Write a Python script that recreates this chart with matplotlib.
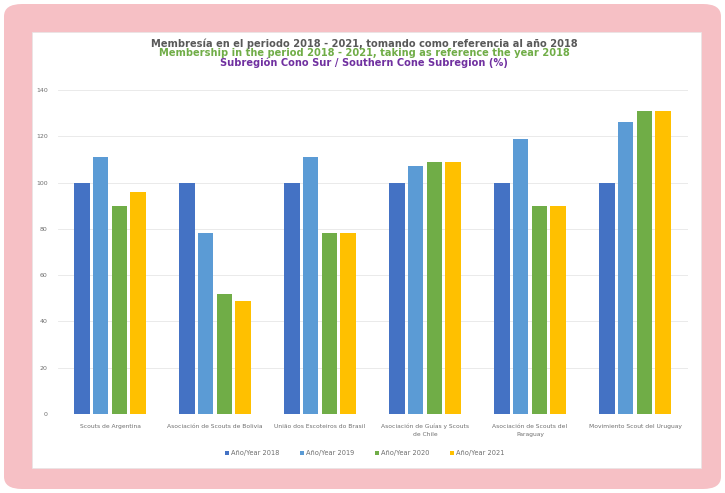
import numpy as np
import matplotlib.pyplot as plt
from matplotlib.patches import FancyBboxPatch, Rectangle

# data
categories = ["Scouts de Argentina", "Asociación de Scouts de Bolivia",
              "União dos Escoteiros do Brasil", "Asociación de Guías y Scouts\nde Chile",
              "Asociación de Scouts del\nParaguay", "Movimiento Scout del Uruguay"]
years = ["Año/Year 2018", "Año/Year 2019", "Año/Year 2020", "Año/Year 2021"]
v2018 = [100, 100, 100, 100, 100, 100]
v2019 = [111, 78, 111, 107, 119, 126]
v2020 = [90, 52, 78, 109, 90, 131]
v2021 = [96, 49, 78, 109, 90, 131]
yticks = [0, 20, 40, 60, 80, 100, 120, 140]

colors = ["#4472C4", "#5B9BD5", "#70AD47", "#FFC000"]

fig = plt.figure(figsize=(7.25, 4.93), dpi=100)
fig.patch.set_facecolor("white")

# pink frame with white panel
frame = FancyBboxPatch((4 / 725, 4 / 493), 717 / 725, 485 / 493,
                       boxstyle="round,pad=0,rounding_size=0.025",
                       transform=fig.transFigure, facecolor="#F6C0C5",
                       edgecolor="none", zorder=-2)
fig.patches.append(frame)
panel = Rectangle((32 / 725, 25 / 493), 669 / 725, 436 / 493,
                  transform=fig.transFigure, facecolor="white",
                  edgecolor="#E6E6E6", linewidth=0.5, zorder=-1)
fig.patches.append(panel)

ax = fig.add_axes([57.5 / 725, 79 / 493, 630 / 725, 324 / 493])
ax.set_facecolor("none")

x = np.arange(len(categories))
w = 0.15
step = 0.18
series = [v2018, v2019, v2020, v2021]
for i, vals in enumerate(series):
    ax.bar(x + (i - 1.5) * step, vals, width=w, color=colors[i], label=years[i], zorder=3)

ax.set_xlim(-0.5, len(categories) - 0.5)
ax.set_ylim(0, 140)
ax.set_yticks(yticks)
ax.set_yticklabels([str(t) for t in yticks], fontsize=4.5, color="#6E6E6E")
ax.set_xticks(x)
ax.set_xticklabels(categories, fontsize=4.3, color="#6E6E6E", linespacing=1.7)
ax.tick_params(length=0, pad=7)
ax.grid(axis="y", color="#E6E6E6", linewidth=0.6, zorder=0)
for s in ax.spines.values():
    s.set_visible(False)
ax.axhline(0, color="#D9D9D9", linewidth=0.6, zorder=2)

# three-line title, one colour per line
fig.text(0.502, 1 - 44 / 493, "Membresía en el periodo 2018 - 2021, tomando como referencia al año 2018",
         ha="center", va="center", fontsize=7.1, fontweight="bold", color="#595959")
fig.text(0.502, 1 - 53.5 / 493, "Membership in the period 2018 - 2021, taking as reference the year 2018",
         ha="center", va="center", fontsize=7.1, fontweight="bold", color="#70AD47")
fig.text(0.502, 1 - 63 / 493, "Subregión Cono Sur / Southern Cone Subregion (%)",
         ha="center", va="center", fontsize=7.1, fontweight="bold", color="#7030A0")

leg = fig.legend(loc="center", bbox_to_anchor=(0.503, 0.081), ncol=4, frameon=False,
                 fontsize=4.8, handlelength=0.6, handleheight=0.6, handletextpad=0.4,
                 columnspacing=3.0)
for t in leg.get_texts():
    t.set_color("#6E6E6E")

fig.savefig("out.png", dpi=100)
